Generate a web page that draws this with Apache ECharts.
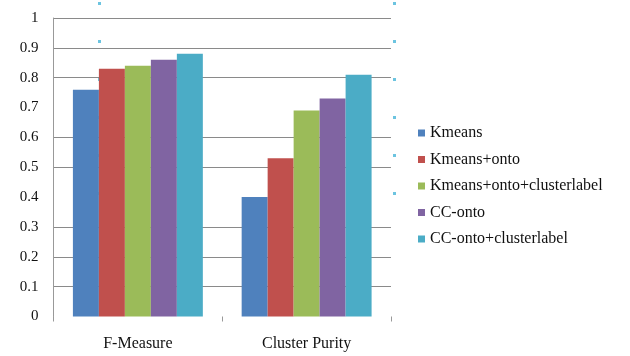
<!DOCTYPE html>
<html>
<head>
<meta charset="utf-8">
<script src="https://cdn.jsdelivr.net/npm/echarts@6/dist/echarts.min.js"></script>
<style>
  html, body { margin: 0; padding: 0; background: #ffffff; }
  #chart { width: 630px; height: 356px; }
</style>
</head>
<body>
<div id="chart"></div>
<script>
// Metric categories on the x axis
const categories = ['F-Measure', 'Cluster Purity'];

// One series per clustering method
const seriesNames = [
  'Kmeans',
  'Kmeans+onto',
  'Kmeans+onto+clusterlabel',
  'CC-onto',
  'CC-onto+clusterlabel'
];
const kmeans = [0.76, 0.40];
const kmeansOnto = [0.83, 0.53];
const kmeansOntoLabel = [0.84, 0.69];
const ccOnto = [0.86, 0.73];
const ccOntoLabel = [0.88, 0.81];

const seriesColors = ['#4F81BD', '#C0504D', '#9BBB59', '#8064A2', '#4BACC6'];

// Value axis ticks
const yTicks = [0, 0.1, 0.2, 0.3, 0.4, 0.5, 0.6, 0.7, 0.8, 0.9, 1];

const serif = '"Liberation Serif", "Times New Roman", "DejaVu Serif", serif';
const gridGray = '#8a8a8a';
const noLine = 'rgba(0,0,0,0)';

// Horizontal rule colours per tick (some rules are not drawn)
const ruleColors = [noLine, gridGray, gridGray, gridGray, noLine, gridGray, gridGray, noLine, gridGray, gridGray, gridGray];

// Small selection handle markers along the frame
const handleYs = [2, 40, 78, 116, 154, 192];
const handleXs = [98, 393];
const handles = [];
handleXs.forEach(function (hx) {
  handleYs.forEach(function (hy) {
    handles.push({
      type: 'rect',
      left: hx, top: hy,
      shape: { width: 3, height: 3 },
      style: { fill: '#6cc4e0' },
      silent: true
    });
  });
});

const dataSets = [kmeans, kmeansOnto, kmeansOntoLabel, ccOnto, ccOntoLabel];

const chart = echarts.init(document.getElementById('chart'), null, { renderer: 'canvas' });
chart.setOption({
  backgroundColor: '#ffffff',
  animation: false,
  color: seriesColors,
  grid: { left: 53.5, right: 239, top: 18, bottom: 39.5, containLabel: false },
  legend: {
    orient: 'vertical',
    left: 413,
    top: 120,
    itemWidth: 7,
    itemHeight: 7,
    itemGap: 10.5,
    icon: 'rect',
    data: seriesNames,
    textStyle: { fontFamily: serif, fontSize: 16, color: '#111', lineHeight: 16 }
  },
  xAxis: {
    type: 'category',
    data: categories,
    axisLine: { show: false },
    axisTick: { show: true, length: 5, lineStyle: { color: '#999' } },
    axisLabel: { fontFamily: serif, fontSize: 16, color: '#111', margin: 19 }
  },
  yAxis: {
    type: 'value',
    min: yTicks[0],
    max: yTicks[yTicks.length - 1],
    interval: 0.1,
    axisLine: { show: true, lineStyle: { color: '#999' } },
    axisTick: { show: false },
    axisLabel: {
      fontFamily: serif, fontSize: 15, color: '#111', margin: 15,
      formatter: function (v) { return String(Math.round(v * 10) / 10); }
    },
    splitLine: { show: true, lineStyle: { color: ruleColors, width: 1 } }
  },
  series: seriesNames.map(function (name, i) {
    return {
      name: name,
      type: 'bar',
      data: dataSets[i],
      barGap: '0%',
      barCategoryGap: '23%',
      itemStyle: { color: seriesColors[i] }
    };
  }),
  graphic: handles
});
</script>
</body>
</html>
